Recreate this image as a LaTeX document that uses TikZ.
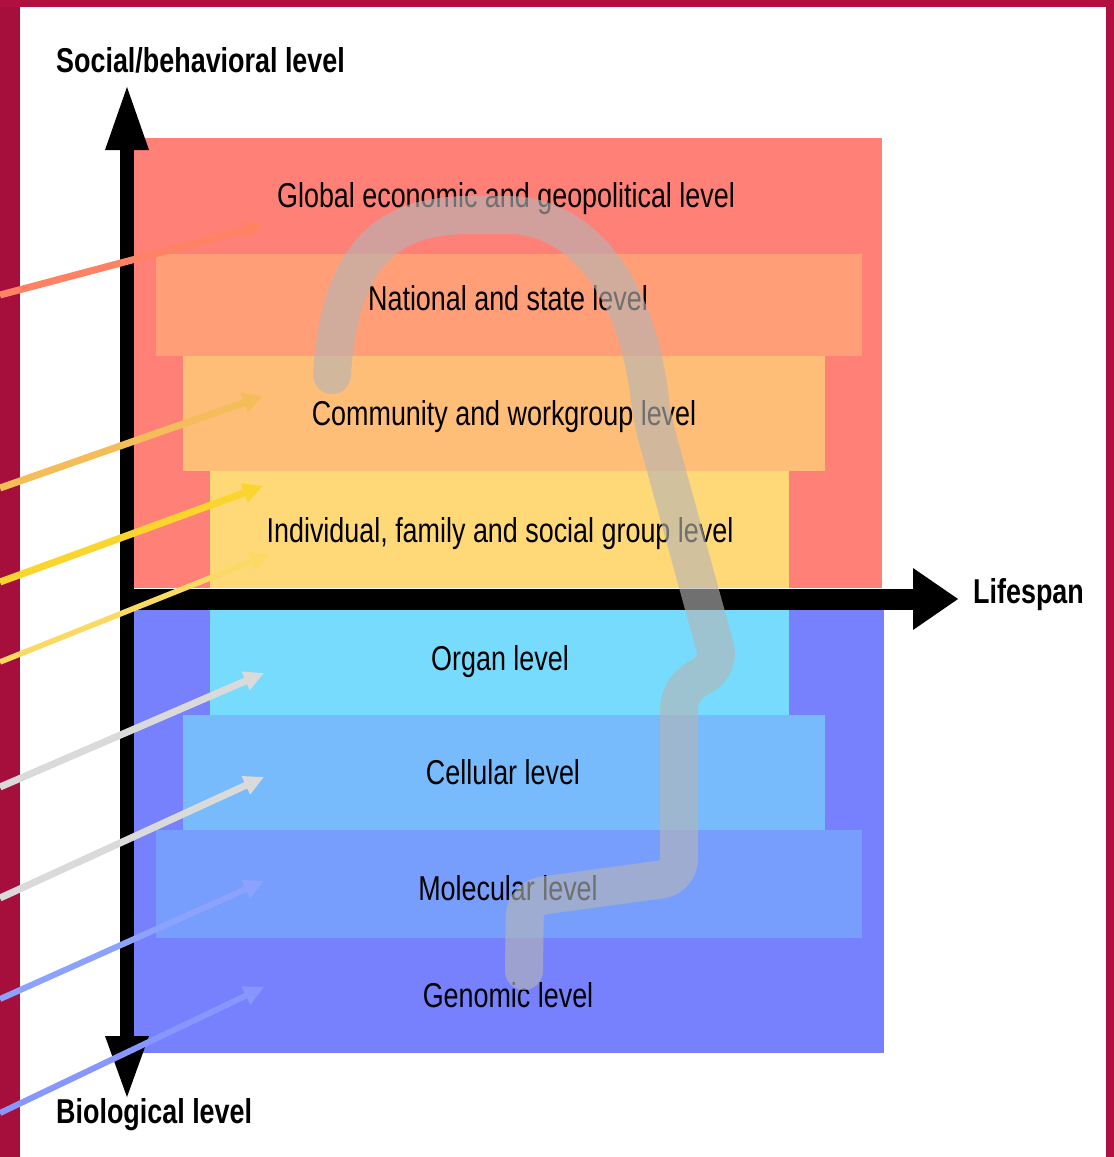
\documentclass[tikz,border=0pt]{standalone}
\usepackage{fontspec}
\setmainfont{Liberation Sans}[FakeStretch=0.78]
\usetikzlibrary{arrows.meta}

% band colours
\definecolor{frameL}{HTML}{A60E3C}
\definecolor{frameT}{HTML}{B00F40}
\definecolor{socialbg}{HTML}{FF8077}
\definecolor{natl}{HTML}{FF9E77}
\definecolor{comm}{HTML}{FFBE77}
\definecolor{indiv}{HTML}{FFD977}
\definecolor{biobg}{HTML}{7781FD}
\definecolor{organ}{HTML}{77DBFD}
\definecolor{cell}{HTML}{77BBFD}
\definecolor{molec}{HTML}{779EFD}
\definecolor{trackgrey}{HTML}{B5B5B5}
% feeder arrow colours
\definecolor{fSalmon}{HTML}{FF8264}
\definecolor{fOrange}{HTML}{F4BD5A}
\definecolor{fYellow}{HTML}{F9D52E}
\definecolor{fPale}{HTML}{FBDA64}
\definecolor{fGrey}{HTML}{DADADA}
\definecolor{fBlueA}{HTML}{8CA2FF}
\definecolor{fBlueB}{HTML}{8896FF}

\begin{document}
\begin{tikzpicture}[x=1pt,y=-1pt,
  lvl/.style={font=\fontsize{34.5}{40}\selectfont, inner sep=0pt, anchor=base},
  axlabel/.style={font=\fontsize{34.5}{40}\selectfont\bfseries, inner sep=0pt},
  feed/.style={line width=7pt, -{Triangle[length=20pt,width=19pt]}},
  track/.style={line width=38pt, draw=trackgrey, draw opacity=0.62,
    line cap=round, line join=round, rounded corners=18pt}
]
\useasboundingbox (0,0) rectangle (1114,1157);
\fill[white] (0,0) rectangle (1114,1157);

% frame
\fill[frameL] (0,0) rectangle (20,1157);
\fill[frameT] (0,0) rectangle (1114,7);
\fill[frameT] (1106,0) rectangle (1114,1157);

% social / behavioural bands
\fill[socialbg] (134,138) rectangle (882,588);
\fill[natl]  (156,254) rectangle (862,356);
\fill[comm]  (183,356) rectangle (825,471);
\fill[indiv] (210,471) rectangle (789,588);

% biological bands
\fill[biobg] (134,610) rectangle (884,1053);
\fill[organ] (210,610) rectangle (789,715);
\fill[cell]  (183,715) rectangle (825,830);
\fill[molec] (156,830) rectangle (862,938);

% level labels
\node[lvl] (global) at (506,207) {Global economic and geopolitical level};
\node[lvl] (national) at (508,310) {National and state level};
\node[lvl] (community) at (504,425) {Community and workgroup level};
\node[lvl] (individual) at (500,542) {Individual, family and social group level};
\node[lvl] (organlvl) at (500,670) {Organ level};
\node[lvl] (cellular) at (503,784) {Cellular level};
\node[lvl] (molecular) at (508,900) {Molecular level};
\node[lvl] (genomic) at (508,1007) {Genomic level};

% axes
\fill[black] (120,150) rectangle (134,1036);
\fill[black] (105,150) -- (127,87) -- (149,150) -- cycle;
\fill[black] (105,1036) -- (127,1097) -- (149,1036) -- cycle;
\fill[black] (120,588.5) rectangle (913,609.5);
\fill[black] (913,568) -- (958,599) -- (913,630) -- cycle;

\node[axlabel, anchor=base west] (social) at (56,72) {Social/behavioral level};
\node[axlabel, anchor=base west] (bio) at (56,1123) {Biological level};
\node[axlabel, anchor=base west] (life) at (973,603) {Lifespan};

% life-course track
\draw[track] (332,375) .. controls (340,240) and (400,215) .. (490,215)
  .. controls (580,215) and (637,285) .. (652,418)
  -- (720,665) -- (679,690) -- (679,877) -- (525,898) -- (524,971);

% feeder arrows
\coordinate (s1) at (0,295);   \coordinate (t1) at (264,225);
\coordinate (s2) at (0,488);   \coordinate (t2) at (263,396);
\coordinate (s3) at (0,582);   \coordinate (t3) at (263,486);
\coordinate (s4) at (0,662);   \coordinate (t4) at (270,554);
\coordinate (s5) at (0,787);   \coordinate (t5) at (264,673);
\coordinate (s6) at (0,898);   \coordinate (t6) at (264,777);
\coordinate (s7) at (0,999);   \coordinate (t7) at (264,881);
\coordinate (s8) at (0,1113);  \coordinate (t8) at (264,987);

\draw[feed, fSalmon] (s1) -- (t1);
\draw[feed, fOrange] (s2) -- (t2);
\draw[feed, fYellow] (s3) -- (t3);
\draw[feed, fPale, line width=5.5pt] (s4) -- (t4);
\draw[feed, fGrey] (s5) -- (t5);
\draw[feed, fGrey] (s6) -- (t6);
\draw[feed, fBlueA, line width=6pt] (s7) -- (t7);
\draw[feed, fBlueB, line width=6pt] (s8) -- (t8);
\end{tikzpicture}
\end{document}
